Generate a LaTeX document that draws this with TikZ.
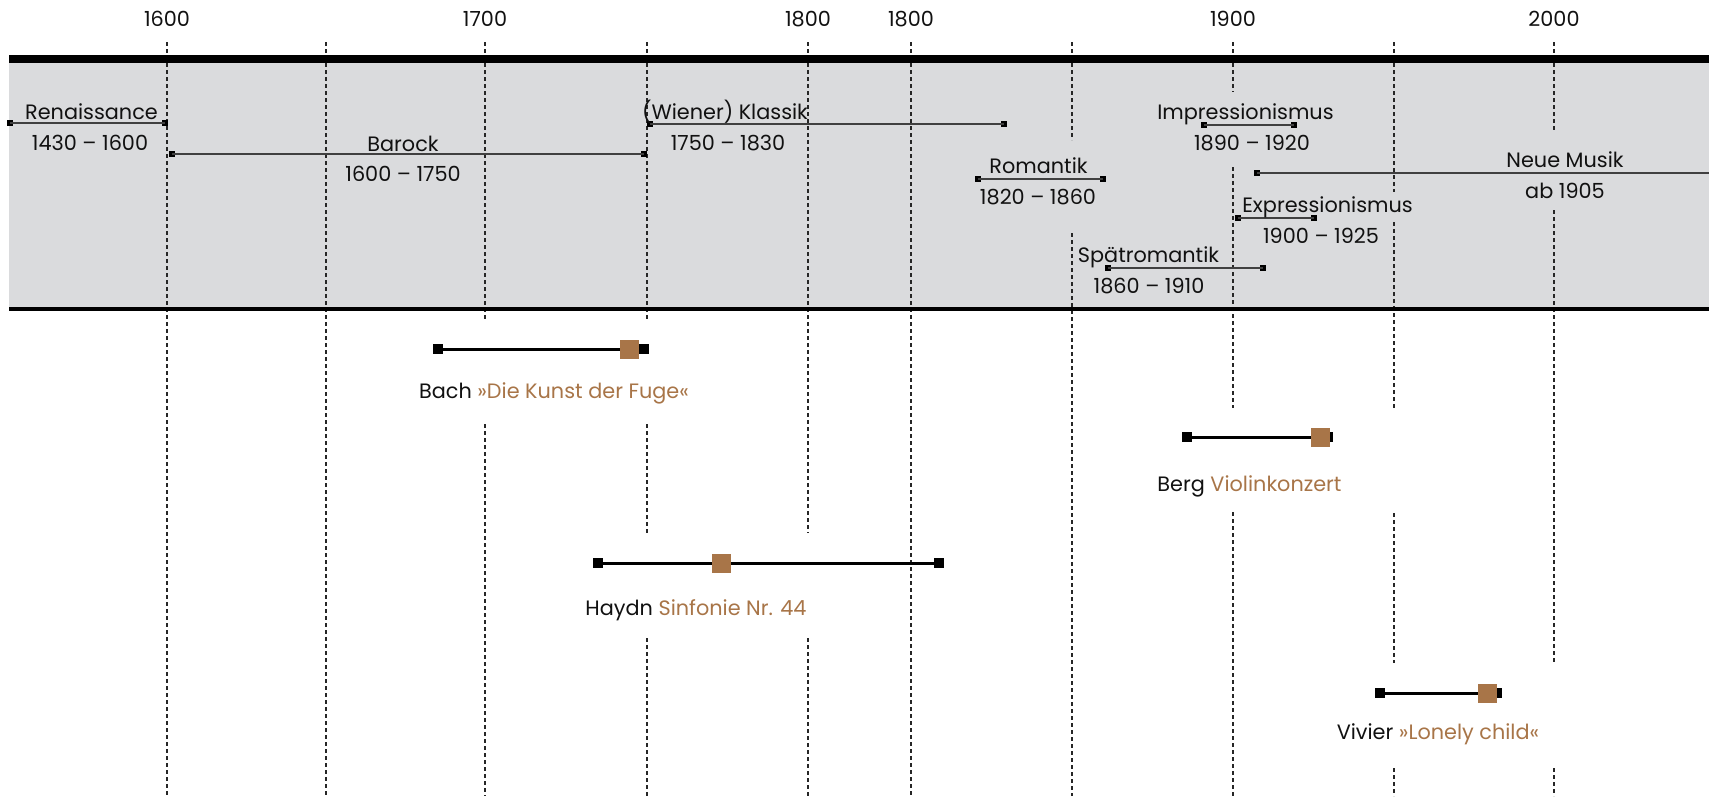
\documentclass[tikz,border=0pt]{standalone}
\usepackage{fontspec}
\setmainfont{Poppins}
\definecolor{brn}{HTML}{A87548}
\definecolor{bandgray}{HTML}{DADBDD}
\definecolor{ink}{HTML}{111111}
\begin{document}
\begin{tikzpicture}[x=1pt,y=-1pt,
  gridline/.style={line width=1.2pt,black!85,dash pattern=on 4pt off 3pt},
  per/.style={line width=1.2pt,black!75},
  pmk/.style={rectangle,fill=black,minimum size=6pt,inner sep=0pt},
  wmk/.style={rectangle,fill=black,minimum size=10pt,inner sep=0pt},
  brsq/.style={rectangle,fill=brn,minimum size=19pt,inner sep=0pt},
  work/.style={line width=3pt,black},
  lbl/.style={font=\fontsize{20.8}{24}\selectfont,text=ink,anchor=base,inner sep=0pt}]
\useasboundingbox (0,0) rectangle (1713,796);
% band
\fill[bandgray] (9,63) rectangle (1709,307);
% grid lines
\foreach \x in {167,326,911} \draw[gridline] (\x,42) -- (\x,796);
\draw[gridline] (485,42) -- (485,319) (485,424) -- (485,796);
\draw[gridline] (647,42) -- (647,319) (647,424) -- (647,533) (647,638) -- (647,796);
\draw[gridline] (808,42) -- (808,533) (808,638) -- (808,796);
\draw[gridline] (1072,42) -- (1072,140) (1072,233) -- (1072,796);
\draw[gridline] (1233,42) -- (1233,92) (1233,167) -- (1233,408) (1233,512) -- (1233,796);
\draw[gridline] (1394,42) -- (1394,192) (1394,222) -- (1394,408) (1394,513) -- (1394,663) (1394,768) -- (1394,796);
\draw[gridline] (1554,42) -- (1554,132) (1554,210) -- (1554,663) (1554,768) -- (1554,796);
% bars
\fill[black] (9,55) rectangle (1709,63);
\fill[black] (9,307) rectangle (1709,311);
% axis labels
\node[lbl] (y1600) at (167,26) {1600};
\node[lbl] (y1700) at (485,26) {1700};
\node[lbl] (y1800) at (808,26) {1800};
\node[lbl] (y1800b) at (911,26) {1800};
\node[lbl] (y1900) at (1233,26) {1900};
\node[lbl] (y2000) at (1554,26) {2000};
% periods
\node[pmk] (ren-a) at (10,123) {};   \node[pmk] (ren-b) at (165,123) {};
\node[pmk] (bar-a) at (172,154) {};  \node[pmk] (bar-b) at (644,154) {};
\node[pmk] (kla-a) at (650,124) {};  \node[pmk] (kla-b) at (1004,124) {};
\node[pmk] (rom-a) at (978,179) {};  \node[pmk] (rom-b) at (1103,179) {};
\node[pmk] (imp-a) at (1204,125) {}; \node[pmk] (imp-b) at (1294,125) {};
\node[pmk] (neu-a) at (1257,173) {}; \coordinate (neu-b) at (1709,173);
\node[pmk] (exp-a) at (1238,218) {}; \node[pmk] (exp-b) at (1314,218) {};
\node[pmk] (spa-a) at (1108,268) {}; \node[pmk] (spa-b) at (1263,268) {};
\foreach \p in {ren,bar,kla,rom,imp,neu,exp,spa} \draw[per] (\p-a.center) -- (\p-b.center);
\node[lbl] (ren-t) at (91.5,119) {Renaissance};
\node[lbl] (ren-d) at (90,150) {1430 – 1600};
\node[lbl] (bar-t) at (403,151) {Barock};
\node[lbl] (bar-d) at (403,181) {1600 – 1750};
\node[lbl] (kla-t) at (725,119) {(Wiener) Klassik};
\node[lbl] (kla-d) at (728,150) {1750 – 1830};
\node[lbl] (rom-t) at (1038.5,173) {Romantik};
\node[lbl] (rom-d) at (1038,204) {1820 – 1860};
\node[lbl] (imp-t) at (1245.5,119) {Impressionismus};
\node[lbl] (imp-d) at (1252,150) {1890 – 1920};
\node[lbl] (neu-t) at (1565,167) {Neue Musik};
\node[lbl] (neu-d) at (1565,198) {ab 1905};
\node[lbl] (exp-t) at (1327.5,212) {Expressionismus};
\node[lbl] (exp-d) at (1321,243) {1900 – 1925};
\node[lbl] (spa-t) at (1148.5,262) {Spätromantik};
\node[lbl] (spa-d) at (1149,293) {1860 – 1910};
% works
\node[wmk] (bach-a) at (438,349) {};   \node[wmk] (bach-b) at (643.5,349) {};
\node[wmk] (haydn-a) at (598,563) {};  \node[wmk] (haydn-b) at (938.5,563) {};
\node[wmk] (berg-a) at (1187,437) {};  \node[wmk] (berg-b) at (1328,437) {};
\node[wmk] (viv-a) at (1380,693) {};   \node[wmk] (viv-b) at (1497,693) {};
\foreach \w in {bach,haydn,berg,viv} \draw[work] (\w-a.center) -- (\w-b.center);
\node[brsq] (bach-s) at (629.5,349) {};
\node[brsq] (haydn-s) at (721.5,563) {};
\node[brsq] (berg-s) at (1320.5,437) {};
\node[brsq] (viv-s) at (1487.5,693) {};
\node[lbl] (bach-t) at (554,398) {Bach \textcolor{brn}{»Die Kunst der Fuge«}};
\node[lbl] (haydn-t) at (696,615) {Haydn \textcolor{brn}{Sinfonie Nr. 44}};
\node[lbl] (berg-t) at (1249.5,491) {Berg \textcolor{brn}{Violinkonzert}};
\node[lbl] (viv-t) at (1438,739) {Vivier \textcolor{brn}{»Lonely child«}};
\end{tikzpicture}
\end{document}
